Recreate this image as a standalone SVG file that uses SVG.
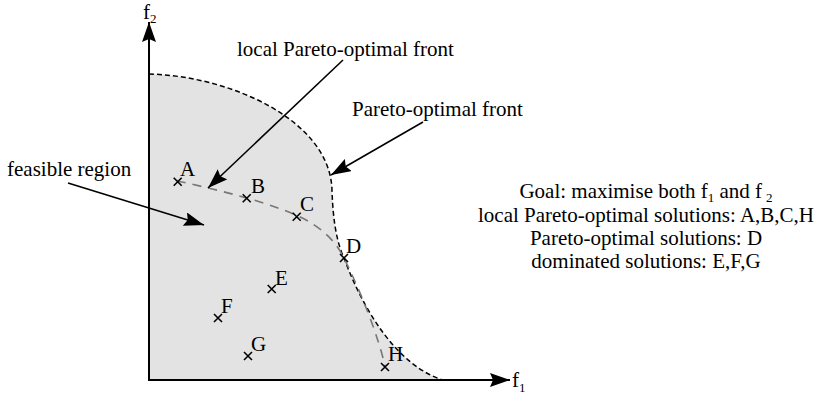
<svg xmlns="http://www.w3.org/2000/svg" width="823" height="397" viewBox="0 0 823 397" font-family="'Liberation Serif', 'Times New Roman', Times, 'DejaVu Serif', serif">
<style>
text{font-family:'Liberation Serif','Times New Roman',Times,'DejaVu Serif',serif;font-size:21px;fill:#000}
.sub{font-size:13px}
.ax{stroke:#000;stroke-width:2;fill:none}
.arr{stroke:#000;stroke-width:1.6;fill:none}
.x{stroke:#000;stroke-width:1.6;fill:none}
.rt{text-anchor:middle}
</style>
<defs>
<marker id="ah" markerUnits="userSpaceOnUse" markerWidth="20" markerHeight="14" refX="20" refY="7" orient="auto" viewBox="0 0 20 14">
<path d="M0,0 L20,7 L0,14 L3,7 z" fill="#000"/>
</marker>
</defs>
<rect width="823" height="397" fill="#fff"/>
<g id="region">
<path d="M149,380 L149,74 C230,76 330,120 332,190 C333,225 338,245 344,258 C364,312 398,366 443,380 Z" fill="#e3e3e3" stroke="none"/>
</g>
<g id="connectors">
<path id="pareto-front" d="M149,74 C230,76 330,120 332,190 C333,225 338,245 344,258 C364,312 398,366 443,380" fill="none" stroke="#000" stroke-width="1.5" stroke-dasharray="5,3"/>
<path id="local-front" d="M177,181 C220,190 270,203 298,216 C320,226 335,240 344,258 C360,290 378,335 385,366" fill="none" stroke="#777" stroke-width="1.6" stroke-dasharray="9,7"/>
<line class="ax" x1="149" y1="381" x2="149" y2="22" marker-end="url(#ah)"/>
<line class="ax" x1="148" y1="380" x2="510" y2="380" marker-end="url(#ah)"/>
<line class="arr" x1="343" y1="60" x2="208" y2="188" marker-end="url(#ah)"/>
<line class="arr" x1="423" y1="122" x2="331" y2="175" marker-end="url(#ah)"/>
<line class="arr" x1="68" y1="183" x2="204" y2="225" marker-end="url(#ah)"/>
</g>
<g id="axis-labels">
<text x="143" y="19">f<tspan class="sub" dy="4">2</tspan></text>
<text x="512" y="387">f<tspan class="sub" dy="5">1</tspan></text>
</g>
<g id="labels">
<text x="237" y="56">local Pareto-optimal front</text>
<text x="352" y="116">Pareto-optimal front</text>
<text x="7" y="176">feasible region</text>
</g>
<g id="pt-A"><path class="x" d="M173.7,177.7 l8,8 m0,-8 l-8,8"/><text x="180" y="176">A</text></g>
<g id="pt-B"><path class="x" d="M242.7,194.3 l8,8 m0,-8 l-8,8"/><text x="251" y="193">B</text></g>
<g id="pt-C"><path class="x" d="M292.7,212.7 l8,8 m0,-8 l-8,8"/><text x="300" y="211">C</text></g>
<g id="pt-D"><path class="x" d="M340,254 l8,8 m0,-8 l-8,8"/><text x="346" y="253">D</text></g>
<g id="pt-E"><path class="x" d="M267.7,285 l8,8 m0,-8 l-8,8"/><text x="275" y="285">E</text></g>
<g id="pt-F"><path class="x" d="M214,314 l8,8 m0,-8 l-8,8"/><text x="221" y="313">F</text></g>
<g id="pt-G"><path class="x" d="M244,352 l8,8 m0,-8 l-8,8"/><text x="251" y="351">G</text></g>
<g id="pt-H"><path class="x" d="M381,363 l8,8 m0,-8 l-8,8"/><text x="388" y="361">H</text></g>
<g id="legend">
<text class="rt" x="646" y="198">Goal: maximise both f<tspan class="sub" dy="4">1</tspan><tspan dy="-4"> and f</tspan><tspan class="sub" dx="4" dy="4">2</tspan></text>
<text class="rt" x="646" y="222">local Pareto-optimal solutions: A,B,C,H</text>
<text class="rt" x="646" y="245">Pareto-optimal solutions: D</text>
<text class="rt" x="646" y="268">dominated solutions: E,F,G</text>
</g>
</svg>
